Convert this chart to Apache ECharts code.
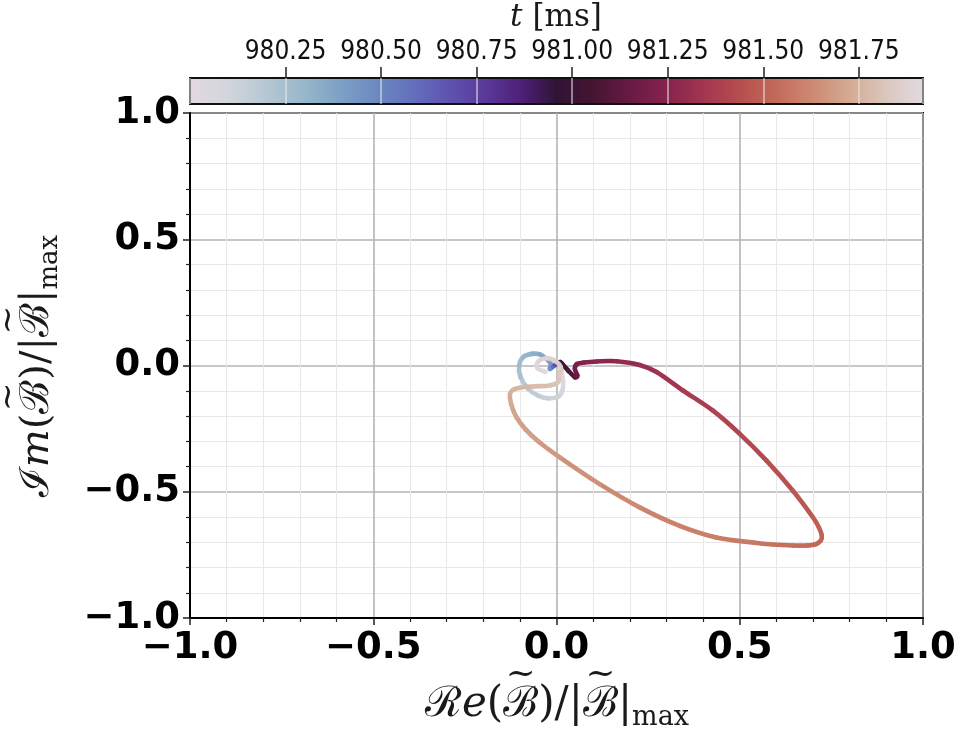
<!DOCTYPE html>
<html>
<head>
<meta charset="utf-8">
<script src="https://cdn.jsdelivr.net/npm/echarts@6/dist/echarts.min.js"></script>
<style>
  html, body { margin: 0; padding: 0; background: #fff; }
  #chart { width: 960px; height: 738px; }
</style>
</head>
<body>
<div id="chart"></div>
<script>
// Time stamps of the trajectory samples (ms)
const tMs = [
  980.00, 980.04, 980.08, 980.11, 980.14, 980.17, 980.20, 980.24, 980.27, 980.30,
  980.33, 980.36, 980.39, 980.42, 980.46, 980.58, 980.70, 980.82, 980.93, 981.02,
  981.08, 981.13, 981.16, 981.19, 981.22, 981.245, 981.265, 981.29, 981.32, 981.34,
  981.37, 981.40, 981.42, 981.45, 981.47, 981.49, 981.50, 981.51, 981.52, 981.53,
  981.54, 981.55, 981.565, 981.58, 981.595, 981.61, 981.63, 981.65, 981.675, 981.69,
  981.70, 981.715, 981.73, 981.745, 981.76, 981.77, 981.785, 981.80, 981.815, 981.83,
  981.85, 981.865, 981.88, 981.895, 981.905, 981.918
];
// Normalised real part
const reB = [
  0.014, 0.018, 0.016, 0.005, -0.023, -0.050, -0.077, -0.098, -0.102, -0.091,
  -0.068, -0.045, -0.027, -0.016, -0.018, -0.010, -0.004, 0.004, 0.010, 0.016,
  0.032, 0.050, 0.057, 0.050, 0.056, 0.075, 0.110, 0.164, 0.227, 0.273,
  0.345, 0.427, 0.500, 0.573, 0.645, 0.700, 0.716, 0.724, 0.721, 0.707,
  0.682, 0.645, 0.591, 0.536, 0.436, 0.336, 0.227, 0.118, 0.009, -0.050,
  -0.085, -0.110, -0.124, -0.127, -0.118, -0.100, -0.064, -0.018, 0.004, 0.007,
  0.012, -0.005, -0.027, -0.050, -0.052, -0.030
];
// Normalised imaginary part
const imB = [
  -0.020, -0.060, -0.099, -0.123, -0.130, -0.119, -0.093, -0.046, 0.000, 0.033,
  0.046, 0.044, 0.026, 0.007, -0.013, -0.005, 0.002, 0.010, 0.014, 0.006,
  -0.020, -0.046, -0.040, -0.013, 0.006, 0.012, 0.016, 0.017, 0.002, -0.026,
  -0.099, -0.179, -0.271, -0.377, -0.496, -0.602, -0.642, -0.675, -0.694, -0.708,
  -0.713, -0.713, -0.709, -0.701, -0.681, -0.635, -0.562, -0.470, -0.364, -0.300,
  -0.252, -0.203, -0.152, -0.112, -0.096, -0.088, -0.083, -0.079, -0.066, -0.040,
  -0.007, 0.020, 0.029, 0.016, -0.011, -0.025
];
// Axis tick values
const axisTicks = [-1.0, -0.5, 0.0, 0.5, 1.0];
const cbTicks = [980.25, 980.50, 980.75, 981.00, 981.25, 981.50, 981.75];
const tRange = [980.0, 981.918];

// "twilight" cyclic colormap
const twilight = [
  '#e2d9e2', '#d3d6dc', '#b9c8d4', '#9ab9cb', '#7fa3c6', '#6d8bc1', '#6471bd',
  '#5f55b0', '#5b3a9c', '#4f217a', '#2f1436', '#451532', '#681a43', '#86224e',
  '#a23650', '#b54e4f', '#c36b5a', '#cd8a72', '#d4aa93', '#dac8be', '#e2d9e2'
];

const chart = echarts.init(document.getElementById('chart'), null, { renderer: 'canvas' });

const curveData = tMs.map((t, i) => [reB[i], imB[i], t]);

function fmtSigned(v) {
  return (v < 0 ? '\u2212' : '') + Math.abs(v).toFixed(1);
}

// Each segment is a Catmull-Rom bezier between consecutive samples, coloured by time
function renderSegment(params, api) {
  const i = params.dataIndex;
  const n = reB.length;
  if (i >= n - 1) return null;
  const at = k => {
    const j = Math.min(Math.max(k, 0), n - 1);
    return api.coord([reB[j], imB[j]]);
  };
  const p0 = at(i - 1), p1 = at(i), p2 = at(i + 1), p3 = at(i + 2);
  return {
    type: 'bezierCurve',
    shape: {
      x1: p1[0], y1: p1[1], x2: p2[0], y2: p2[1],
      cpx1: p1[0] + (p2[0] - p0[0]) / 6, cpy1: p1[1] + (p2[1] - p0[1]) / 6,
      cpx2: p2[0] - (p3[0] - p1[0]) / 6, cpy2: p2[1] - (p3[1] - p1[1]) / 6
    },
    style: { stroke: api.visual('color'), fill: null, lineWidth: 4.6, lineCap: 'round' }
  };
}

// Colour bar fill
function renderBar(params, api) {
  const a = api.coord([api.value(0), 0]);
  const b = api.coord([api.value(1), 1]);
  return {
    type: 'rect',
    shape: { x: a[0], y: b[1], width: b[0] - a[0], height: a[1] - b[1] },
    style: {
      fill: {
        type: 'linear', x: 0, y: 0, x2: 1, y2: 0,
        colorStops: twilight.map((c, k) => ({ offset: k / (twilight.length - 1), color: c }))
      }
    }
  };
}

// Typeset a short formula as a row of text pieces; tildes drawn over flagged pieces
const measureCtx = document.createElement('canvas').getContext('2d');
const serif = 'DejaVu Serif';
const inkColor = '#1a1a1a';
function formula(pieces, cx, cy, rotation) {
  const items = pieces.map(p => {
    const font = (p.italic ? 'italic ' : '') + p.size + 'px "' + serif + '"';
    measureCtx.font = font;
    return Object.assign({ w: measureCtx.measureText(p.t).width }, p);
  });
  const total = items.reduce((s, p) => s + p.w, 0);
  let x = -total / 2;
  const children = [];
  items.forEach(p => {
    children.push({
      type: 'text', x: x, y: p.dy || 0,
      style: {
        text: p.t, fontFamily: serif, fontSize: p.size, fontStyle: p.italic ? 'italic' : 'normal',
        fill: inkColor, align: 'left', verticalAlign: 'middle'
      }
    });
    if (p.tilde) {
      children.push({
        type: 'text', x: x + p.w / 2, y: -p.size * 0.72,
        style: { text: '~', fontFamily: serif, fontSize: p.size * 0.85, fill: inkColor, align: 'center', verticalAlign: 'middle' }
      });
    }
    x += p.w;
  });
  return { type: 'group', x: cx, y: cy, rotation: rotation || 0, children: children, silent: true };
}

const S = 42;
const xTitle = [
  { t: 'ℛ', size: S }, { t: 'e', size: S, italic: true }, { t: '(', size: S },
  { t: 'ℬ', size: S, tilde: true }, { t: ')/|', size: S }, { t: 'ℬ', size: S, tilde: true },
  { t: '|', size: S }, { t: 'max', size: 27, dy: 13 }
];
const yTitle = [
  { t: 'ℐ', size: 40 }, { t: 'm', size: 40, italic: true }, { t: '(', size: 40 },
  { t: 'ℬ', size: 40, tilde: true }, { t: ')/|', size: 40 }, { t: 'ℬ', size: 40, tilde: true },
  { t: '|', size: 40 }, { t: 'max', size: 26, dy: 12 }
];
const cTitle = [
  { t: 't', size: 31, italic: true }, { t: ' [ms]', size: 31 }
];

const boldTick = { fontFamily: 'DejaVu Sans', fontWeight: 'bold', fontSize: 37, color: '#000' };

const option = {
  backgroundColor: '#fff',
  animation: false,
  grid: [
    { left: 190, right: 37, top: 113, bottom: 120, outerBoundsMode: 'none', show: true,
      borderColor: '#000', borderWidth: 2, backgroundColor: 'transparent' },
    { left: 190, right: 37, top: 78, height: 26, outerBoundsMode: 'none', show: true,
      borderColor: '#111', borderWidth: 2, backgroundColor: 'transparent' }
  ],
  visualMap: {
    type: 'continuous', show: false, seriesIndex: 0, dimension: 2,
    min: tRange[0], max: tRange[1],
    inRange: { color: twilight }
  },
  graphic: [
    formula(xTitle, 557, 705, 0),
    formula(yTitle, 38, 366, Math.PI / 2),
    formula(cTitle, 556, 18, 0)
  ],
  xAxis: [
    {
      gridIndex: 0, type: 'value', min: axisTicks[0], max: axisTicks[axisTicks.length - 1], interval: 0.5,
      axisLine: { show: true, onZero: false, lineStyle: { color: '#000', width: 2 } },
      axisTick: { show: true, inside: false, length: 7, lineStyle: { color: '#222', width: 1.5 } },
      minorTick: { show: true, splitNumber: 5, length: 4, lineStyle: { color: '#222', width: 1.2 } },
      splitLine: { show: true, lineStyle: { color: '#b4b4b4', width: 1.6 } },
      minorSplitLine: { show: true, lineStyle: { color: '#e8e8e8', width: 1 } },
      axisLabel: Object.assign({ margin: 12, formatter: v => fmtSigned(v) }, boldTick)
    },
    {
      gridIndex: 1, type: 'value', position: 'top', min: tRange[0], max: tRange[1], interval: 0.25,
      axisLine: { show: false, onZero: false },
      axisTick: { show: true, inside: false, length: 11, lineStyle: { color: '#222', width: 1.5 } },
      splitLine: { show: true, lineStyle: { color: 'rgba(235,235,235,0.7)', width: 1.5 } },
      axisLabel: {
        showMinLabel: false, showMaxLabel: false, margin: 13,
        fontFamily: 'DejaVu Sans Condensed, DejaVu Sans', fontSize: 26, color: '#111',
        formatter: v => (cbTicks.some(c => Math.abs(c - v) < 1e-6) ? v.toFixed(2) : '')
      }
    }
  ],
  yAxis: [
    {
      gridIndex: 0, type: 'value', min: axisTicks[0], max: axisTicks[axisTicks.length - 1], interval: 0.5,
      axisLine: { show: true, onZero: false, lineStyle: { color: '#000', width: 2 } },
      axisTick: { show: true, inside: false, length: 7, lineStyle: { color: '#222', width: 1.5 } },
      minorTick: { show: true, splitNumber: 5, length: 4, lineStyle: { color: '#222', width: 1.2 } },
      splitLine: { show: true, lineStyle: { color: '#b4b4b4', width: 1.6 } },
      minorSplitLine: { show: true, lineStyle: { color: '#e8e8e8', width: 1 } },
      axisLabel: Object.assign({ margin: 10, formatter: v => fmtSigned(v) }, boldTick)
    },
    { gridIndex: 1, type: 'value', min: 0, max: 1, show: false }
  ],
  series: [
    {
      type: 'custom', name: 'trajectory', xAxisIndex: 0, yAxisIndex: 0,
      renderItem: renderSegment, clip: true,
      encode: { x: 0, y: 1 },
      data: curveData, z: 5
    },
    {
      type: 'custom', name: 'colorbar', xAxisIndex: 1, yAxisIndex: 1,
      renderItem: renderBar, encode: { x: [0, 1] },
      data: [[tRange[0], tRange[1]]], z: -1, silent: true
    }
  ]
};

chart.setOption(option);
</script>
</body>
</html>
